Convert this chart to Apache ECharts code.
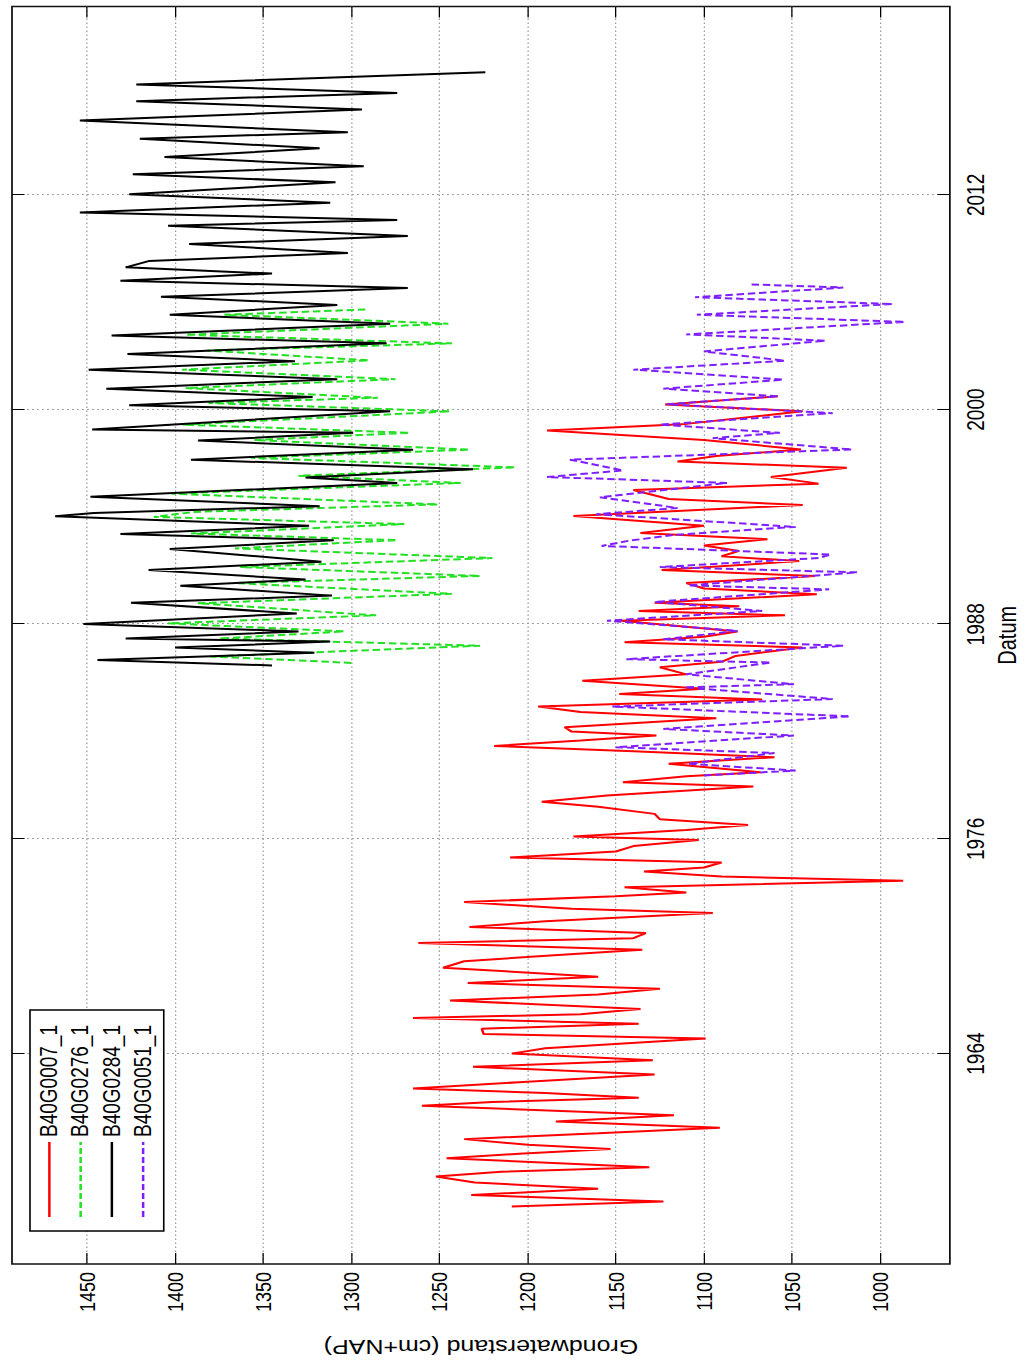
<!DOCTYPE html>
<html>
<head>
<meta charset="utf-8">
<script src="https://cdn.jsdelivr.net/npm/echarts@6/dist/echarts.min.js"></script>
<style>
html,body{margin:0;padding:0;background:#fff;overflow:hidden;width:1026px;height:1365px;}
#wrap{position:relative;width:1026px;height:1365px;overflow:hidden;}
#chart{position:absolute;left:0;top:0;width:1365px;height:820.8px;transform-origin:0 0;transform:translateY(1365px) rotate(-90deg) scaleY(1.25);}
</style>
</head>
<body>
<div id="wrap"><div id="chart"></div></div>
<script>
// tick labels
const yearTicks = [1964, 1976, 1988, 2000, 2012];
const levelTicks = [1000, 1050, 1100, 1150, 1200, 1250, 1300, 1350, 1400, 1450];
const seriesNames = ['B40G0007_1', 'B40G0276_1', 'B40G0284_1', 'B40G0051_1'];

// [decimal year, groundwater level cm+NAP]
const b40g0007 = [[1955.45,1209],[1955.73,1123],[1956.1,1232],[1956.44,1160],[1956.8,1230],[1957.13,1252],[1957.4,1215],[1957.65,1131],[1958.15,1246],[1958.4,1205],[1958.67,1153],[1958.9,1200],[1959.22,1236],[1959.55,1160],[1959.86,1091],[1960.2,1184],[1960.56,1117],[1961.08,1260],[1961.3,1220],[1961.53,1137],[1961.8,1190],[1962.05,1265],[1962.4,1205],[1962.83,1128],[1963.26,1231],[1963.63,1129],[1964.0,1209],[1964.3,1190],[1964.84,1099],[1965.1,1225],[1965.39,1226],[1965.67,1137],[1965.99,1265],[1966.2,1170],[1966.5,1136],[1966.97,1244],[1967.3,1160],[1967.62,1125],[1967.95,1234],[1968.3,1160],[1968.8,1248],[1969.16,1236],[1969.5,1185],[1969.8,1135],[1970.18,1262],[1970.45,1140],[1970.74,1133],[1971.08,1233],[1971.4,1190],[1971.86,1095],[1972.1,1175],[1972.47,1236],[1972.8,1150],[1973.0,1110],[1973.3,1145],[1973.66,987],[1973.9,1090],[1974.18,1134],[1974.4,1100],[1974.68,1090],[1974.96,1210],[1975.3,1150],[1975.6,1140],[1975.94,1103],[1976.13,1174],[1976.5,1110],[1976.78,1075],[1977.1,1125],[1977.4,1128],[1977.8,1160],[1978.08,1192],[1978.43,1155],[1978.93,1072],[1979.17,1146],[1979.5,1110],[1979.73,1068],[1980.2,1120],[1980.57,1060],[1980.9,1140],[1981.2,1219],[1981.5,1170],[1981.78,1127],[1982.0,1175],[1982.24,1179],[1982.74,1093],[1983.1,1170],[1983.4,1194],[1983.8,1067],[1984.1,1148],[1984.4,1100],[1984.84,1169],[1985.2,1110],[1985.6,1125],[1985.9,1090],[1986.23,1082],[1986.7,1044],[1987.0,1145],[1987.3,1100],[1987.6,1081],[1988.2,1147],[1988.5,1054],[1988.74,1137],[1989.0,1080],[1989.2,1128],[1989.67,1036],[1990.0,1100],[1990.3,1110],[1990.7,1037],[1991.03,1124],[1991.53,1046],[1991.8,1090],[1992.1,1080],[1992.4,1100],[1992.75,1064],[1993.1,1136],[1993.5,1100],[1994.05,1174],[1994.67,1044],[1995.0,1120],[1995.5,1140],[1995.86,1035],[1996.23,1062],[1996.75,1019],[1997.1,1115],[1997.4,1093],[1997.77,1045],[1998.3,1100],[1998.83,1189],[1999.2,1110],[1999.9,1044],[2000.28,1122],[2000.74,1058]];

const b40g0276 = [[1985.84,1300],[1986.2,1380],[1986.8,1227],[1987.2,1375],[1987.6,1304],[1988.05,1404],[1988.5,1286],[1989.17,1387],[1989.7,1243],[1990.3,1366],[1990.7,1227],[1991.2,1363],[1991.7,1220],[1992.24,1366],[1992.7,1274],[1993.07,1391],[1993.6,1270],[1994.0,1412],[1994.28,1389],[1994.7,1251],[1995.3,1402],[1995.9,1238],[1996.3,1330],[1996.77,1207],[1997.3,1357],[1997.76,1233],[1998.3,1355],[1998.7,1267],[1999.16,1396],[1999.9,1244],[2000.37,1381],[2000.66,1285],[2001.2,1394],[2001.7,1275],[2002.23,1396],[2002.75,1290],[2003.3,1382],[2003.7,1243],[2004.18,1394],[2004.8,1245],[2005.3,1372],[2005.6,1290]];

const b40g0284 = [[1985.7,1345],[1986.0,1444],[1986.4,1321],[1986.7,1400],[1987.03,1312],[1987.2,1428],[1987.6,1330],[1988.02,1452],[1988.6,1331],[1989.2,1425],[1989.6,1311],[1990.15,1397],[1990.5,1326],[1991.03,1415],[1991.5,1317],[1992.2,1403],[1992.7,1310],[1993.04,1431],[1993.5,1324],[1994.04,1468],[1994.22,1446],[1994.6,1318],[1995.12,1448],[1995.9,1274],[1996.2,1326],[1996.66,1231],[1997.2,1391],[1997.76,1265],[1998.27,1387],[1998.7,1299],[1998.89,1447],[1999.9,1278],[2000.24,1426],[2000.7,1322],[2001.17,1439],[2001.7,1308],[2002.23,1449],[2002.7,1332],[2003.1,1427],[2003.7,1280],[2004.14,1436],[2004.8,1278],[2005.3,1403],[2005.85,1308],[2006.3,1408],[2006.8,1268],[2007.2,1431],[2007.6,1345],[2007.95,1428],[2008.3,1415],[2008.75,1302],[2009.25,1392],[2009.7,1268],[2010.27,1404],[2010.6,1274],[2011.02,1454],[2011.56,1312],[2012.04,1426],[2012.7,1309],[2013.15,1424],[2013.6,1293],[2014.12,1406],[2014.6,1318],[2015.14,1420],[2015.5,1302],[2016.16,1454],[2016.77,1294],[2017.24,1422],[2017.7,1274],[2018.17,1422],[2018.86,1224]];

const b40g0051 = [[1979.55,1100],[1979.82,1048],[1980.2,1109],[1980.8,1060],[1981.13,1150],[1981.78,1049],[1982.15,1123],[1982.85,1017],[1983.4,1152],[1983.82,1027],[1984.47,1111],[1984.65,1049],[1985.2,1110],[1985.86,1062],[1986.05,1144],[1986.8,1021],[1987.16,1123],[1987.63,1081],[1988.2,1155],[1988.74,1067],[1989.25,1128],[1989.95,1029],[1990.17,1109],[1990.9,1013],[1991.2,1125],[1991.7,1035],[1991.9,1028],[1992.38,1158],[1992.66,1143],[1993.0,1117],[1993.44,1048],[1994.15,1161],[1994.5,1115],[1995.1,1159],[1995.9,1087],[1996.23,1189],[1996.6,1146],[1997.2,1176],[1997.77,1016],[1998.4,1095],[1998.7,1057],[1999.16,1125],[1999.8,1027],[2000.3,1121],[2000.74,1058],[2001.17,1123],[2001.67,1055],[2002.23,1140],[2002.73,1054],[2003.25,1100],[2003.85,1031],[2004.2,1110],[2004.9,986],[2005.3,1104],[2005.9,993],[2006.28,1105],[2006.82,1021],[2007.0,1074]];

const FONT = 'Liberation Sans, Arial, Helvetica, sans-serif';
const chart = echarts.init(document.getElementById('chart'), null, {renderer: 'svg', width: 1365, height: 820.8});

const gridLine = {show: true, lineStyle: {color: '#9a9a9a', width: 1, type: [1.5, 2.5]}};
const plain = function (v) { return String(v); };

function lineSeries(name, data, color, dashed) {
  return {
    name: name, type: 'line', data: data,
    xAxisIndex: 0, yAxisIndex: 0,
    symbol: 'none', showSymbol: false,
    lineStyle: {color: color, width: 2, type: dashed ? [6, 3] : 'solid'},
    itemStyle: {color: color},
    emphasis: {disabled: true},
    animation: false
  };
}

chart.setOption({
  animation: false,
  textStyle: {fontFamily: FONT, color: '#000'},
  grid: {left: 95.5, right: 6.5, top: 9.6, bottom: 47.8, show: true, borderColor: '#111', borderWidth: 1.4, backgroundColor: '#fff'},
  legend: {
    orient: 'vertical', left: 134, top: 24,
    padding: [6, 15, 7, 13], itemGap: 6, itemWidth: 75, itemHeight: 14,
    backgroundColor: '#fff', borderColor: '#000', borderWidth: 1.3, borderRadius: 0,
    itemStyle: {opacity: 0, borderWidth: 0},
    textStyle: {fontSize: 19, color: '#000', fontFamily: FONT},
    data: seriesNames
  },
  xAxis: [
    {
      type: 'value', min: 1952.24, max: 2022.53, position: 'bottom',
      name: 'Datum', nameLocation: 'middle', nameGap: 27,
      nameTextStyle: {fontSize: 20, color: '#000', fontFamily: FONT},
      axisLine: {show: false},
      axisTick: {show: true, inside: true, length: 10, customValues: yearTicks, lineStyle: {color: '#000', width: 1}},
      axisLabel: {show: true, customValues: yearTicks, formatter: plain, fontSize: 19, color: '#000', margin: 12, fontFamily: FONT},
      splitLine: gridLine
    },
    {
      type: 'value', min: 1952.24, max: 2022.53, position: 'top',
      axisLine: {show: false},
      axisTick: {show: true, inside: true, length: 10, customValues: yearTicks, lineStyle: {color: '#000', width: 1}},
      axisLabel: {show: false, customValues: yearTicks},
      splitLine: {show: false}
    }
  ],
  yAxis: [
    {
      type: 'value', min: 960.5, max: 1492.5, position: 'left',
      name: 'Grondwaterstand (cm+NAP)', nameLocation: 'middle', nameRotate: 90, nameGap: 73,
      nameTextStyle: {fontSize: 20, color: '#000', fontFamily: FONT},
      axisLine: {show: false},
      axisTick: {show: true, inside: true, length: 11, customValues: levelTicks, lineStyle: {color: '#000', width: 1}},
      axisLabel: {show: true, customValues: levelTicks, formatter: plain, fontSize: 18, color: '#000', margin: 8, fontFamily: FONT},
      splitLine: gridLine
    },
    {
      type: 'value', min: 960.5, max: 1492.5, position: 'right',
      axisLine: {show: false},
      axisTick: {show: true, inside: true, length: 11, customValues: levelTicks, lineStyle: {color: '#000', width: 1}},
      axisLabel: {show: false, customValues: levelTicks},
      splitLine: {show: false}
    }
  ],
  series: [
    lineSeries(seriesNames[0], b40g0007, '#ff0000', false),
    lineSeries(seriesNames[1], b40g0276, '#22e022', true),
    lineSeries(seriesNames[2], b40g0284, '#000000', false),
    lineSeries(seriesNames[3], b40g0051, '#7f1fff', true)
  ]
});
</script>
</body>
</html>
